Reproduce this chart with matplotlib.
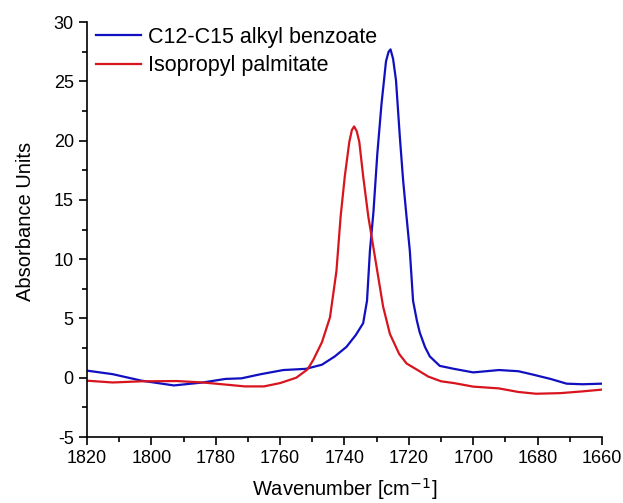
"""
plot.py - FTIR carbonyl band of two emollients (absorbance vs wavenumber).
"""

import matplotlib
matplotlib.use("Agg")
import matplotlib.pyplot as plt
from matplotlib.ticker import MultipleLocator

plt.rcParams["font.family"] = ["Liberation Sans", "DejaVu Sans"]
plt.rcParams["axes.unicode_minus"] = False

# C12-C15 alkyl benzoate
benzoate_x = [1820, 1812, 1803, 1793, 1784, 1777, 1772, 1766, 1759, 1752,
              1747, 1743, 1739.4, 1736.5, 1734.2, 1733, 1732.1, 1731, 1729.8,
              1728.5, 1727.1, 1726.3, 1725.7, 1724.9, 1724.0, 1722.8, 1721.8,
              1720.8, 1719.7, 1718.7, 1717.5, 1716.6, 1715, 1713.5, 1710.4,
              1706, 1700, 1692, 1686, 1682, 1676, 1671, 1666, 1660]
benzoate_y = [0.6, 0.3, -0.25, -0.65, -0.4, -0.1, -0.05, 0.3, 0.65, 0.75,
              1.1, 1.8, 2.6, 3.6, 4.6, 6.5, 10.7, 14.0, 18.9,
              23.1, 26.7, 27.5, 27.7, 26.9, 25.1, 20.3, 16.7,
              13.8, 10.7, 6.5, 4.8, 3.8, 2.6, 1.8, 1.0,
              0.75, 0.45, 0.65, 0.55, 0.3, -0.1, -0.5, -0.55, -0.5]

# Isopropyl palmitate
palmitate_x = [1820, 1812, 1803, 1792, 1784, 1778, 1771, 1765, 1760, 1755,
               1751.5, 1749.7, 1747, 1744.5, 1742.5, 1741.2, 1739.9, 1738.5,
               1737.7, 1737.0, 1736.2, 1735.4, 1734.2, 1732.6, 1730.0, 1728,
               1725.9, 1723, 1720.7, 1717, 1714, 1710, 1706, 1700, 1692, 1686,
               1680.5, 1673, 1666, 1660]
palmitate_y = [-0.25, -0.4, -0.3, -0.28, -0.4, -0.55, -0.73, -0.73, -0.45, 0.0,
               0.7, 1.5, 3.0, 5.1, 9.0, 13.6, 17.0, 19.9,
               20.9, 21.2, 20.8, 19.9, 17.0, 13.6, 9.3, 6.0,
               3.7, 2.0, 1.2, 0.6, 0.1, -0.3, -0.45, -0.75, -0.9, -1.2,
               -1.35, -1.3, -1.15, -1.0]

fig = plt.figure(figsize=(6.23, 5.03), dpi=100)
ax = fig.add_axes([0.1396, 0.1312, 0.8267, 0.8248])

ax.plot(benzoate_x, benzoate_y, color="#1010c0", lw=1.6,
        label="C12-C15 alkyl benzoate")
ax.plot(palmitate_x, palmitate_y, color="#d8141e", lw=1.6,
        label="Isopropyl palmitate")

ax.set_xlim(1820, 1660)
ax.set_ylim(-5, 30)
ax.xaxis.set_major_locator(MultipleLocator(20))
ax.xaxis.set_minor_locator(MultipleLocator(10))
ax.yaxis.set_major_locator(MultipleLocator(5))
ax.yaxis.set_minor_locator(MultipleLocator(2.5))

for side in ("top", "right"):
    ax.spines[side].set_visible(False)
for side in ("left", "bottom"):
    ax.spines[side].set_linewidth(1.2)

ax.tick_params(which="major", direction="out", length=6, width=1.2,
               labelsize=13)
ax.tick_params(which="minor", direction="out", length=3.5, width=1.2)

xl = ax.set_xlabel("Wavenumber [cm$^{-1}$]", fontsize=14.5)
xl.set_va("baseline")
ax.xaxis.set_label_coords(0.5, -0.142)
yl = ax.set_ylabel("Absorbance Units", fontsize=14.5)
yl.set_va("center")
ax.yaxis.set_label_coords(-0.12, 0.52)

ax.legend(loc="upper left", frameon=False, fontsize=15.5, handlelength=2.1,
          handletextpad=0.35, borderaxespad=0.0, labelspacing=0.35,
          bbox_to_anchor=(0.0, 1.01))

fig.savefig("out.png", dpi=100)
